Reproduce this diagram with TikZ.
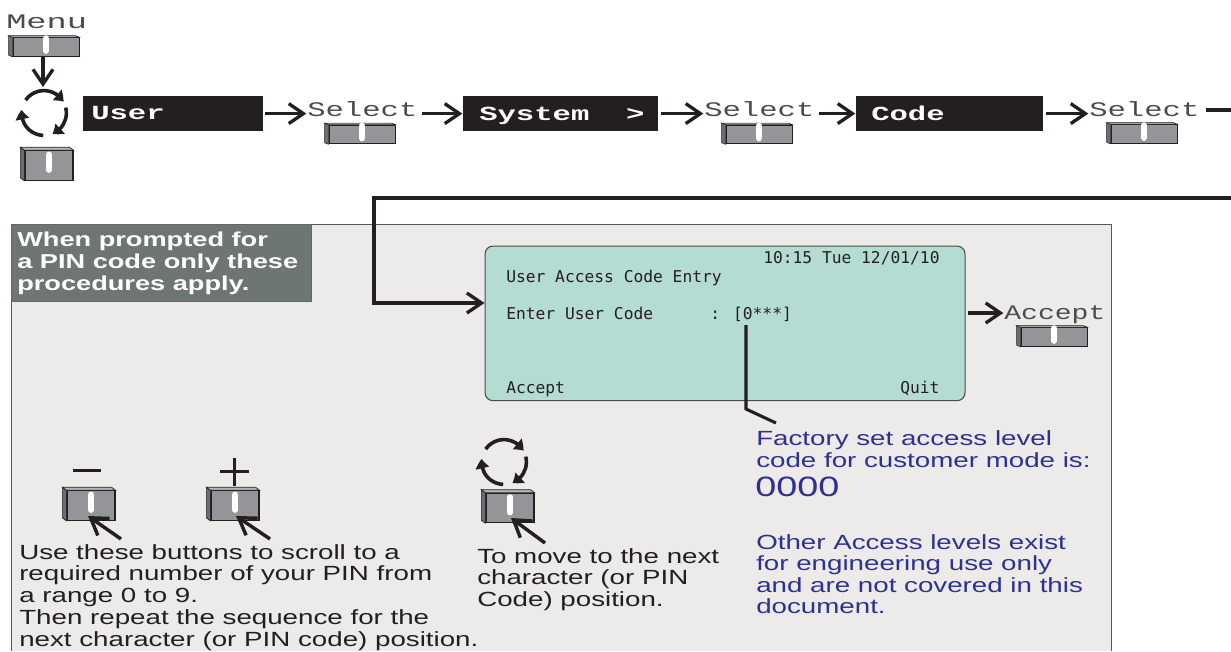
\documentclass[tikz,border=0pt]{standalone}
\usepackage{fontspec}
\setmainfont[FakeStretch=1.35]{Liberation Sans}
\newfontfamily\keyfont[FakeStretch=1.48]{Liberation Mono}
\newfontfamily\menufont[FakeStretch=1.63]{Liberation Mono}
\newfontfamily\accfont[FakeStretch=1.36]{Liberation Mono}
\newfontfamily\boxfont[FakeStretch=1.53]{Liberation Mono}
\newfontfamily\scrfont{DejaVu Sans Mono}
\usetikzlibrary{arrows.meta,bending}
\definecolor{ink}{HTML}{231F20}
\definecolor{panel}{HTML}{ECEBEA}
\definecolor{head}{HTML}{6E7675}
\definecolor{screen}{HTML}{B4DCD2}
\definecolor{bluetxt}{HTML}{2E3192}
\definecolor{face}{HTML}{939598}
\definecolor{bevelc}{HTML}{6D6E71}
\tikzset{
  flow/.style={draw=ink,line width=2.5pt,-{Straight Barb[length=11pt,width=15pt,line width=2.5pt]}},
  plainline/.style={draw=ink,line width=2.3pt},
  keylabel/.style={inner sep=0pt,text=black!70,font=\keyfont\fontsize{15.5pt}{17pt}\selectfont},
  blackbox/.style={fill=ink,draw=none,inner sep=0pt,minimum height=26pt},
  boxtext/.style={inner sep=0pt,anchor=base west,text=white,font=\boxfont\bfseries\fontsize{15pt}{17pt}\selectfont},
  btnface/.style={draw=ink,line width=.7pt,fill=face,inner sep=0pt},
  wide/.style={minimum width=49.5pt,minimum height=14pt},
  square/.style={minimum width=36pt,minimum height=22pt},
  scr/.style={inner sep=0pt,anchor=base west,text=ink,font=\scrfont\fontsize{12.2pt}{14pt}\selectfont},
  bodytext/.style={inner sep=0pt,anchor=north west,align=left,text=ink,font=\fontsize{15.4pt}{16.3pt}\selectfont},
  bluetext/.style={inner sep=0pt,anchor=north west,align=left,text=bluetxt,font=\fontsize{15.4pt}{16.2pt}\selectfont},
  cyclearc/.style={draw=ink,line width=2.7pt,-{Triangle[length=7pt,width=10pt,bend]}},
  ptr/.style={draw=ink,line width=2.6pt,-{Straight Barb[length=12pt,width=15.5pt,line width=2.6pt]}},
}
\newcommand\widebtn[2]{%
  \node[btnface,wide] (#1) at (#2) {};
  \fill[bevelc,draw=ink,line width=.4pt] (#1.north west) -- +(-3pt,1.2pt) -- ([shift={(-3pt,1.2pt)}]#1.south west) -- (#1.south west) -- cycle;
  \fill[face!70,draw=ink,line width=.4pt] (#1.north west) -- +(-3pt,1.2pt) -- ([shift={(-3pt,1.2pt)}]#1.north east) -- (#1.north east) -- cycle;
  \draw[white,line width=5pt,line cap=round] ([yshift=-1pt]#1.north) -- ([yshift=-10pt]#1.north);
}
\newcommand\squarebtn[2]{%
  \node[btnface,square,line width=.9pt] (#1) at (#2) {};
  \fill[bevelc,draw=ink,line width=.5pt] (#1.north west) -- +(-3pt,2.2pt) -- ([shift={(-3pt,2.2pt)}]#1.south west) -- (#1.south west) -- cycle;
  \fill[face!70,draw=ink,line width=.5pt] (#1.north west) -- +(-3pt,2.2pt) -- ([shift={(-3pt,2.2pt)}]#1.north east) -- (#1.north east) -- cycle;
  \draw[white,line width=5pt,line cap=round] ([yshift=-3.5pt]#1.north) -- ([yshift=-14.5pt]#1.north);
}
\newcommand\cycle[2]{%
  \coordinate (#1) at (#2);
  \draw[cyclearc] ([shift={(145:16.8pt)}]#1) arc[start angle=145,end angle=30,radius=16.8pt];
  \draw[cyclearc] ([shift={(14:16.8pt)}]#1) arc[start angle=14,end angle=-68,radius=16.8pt];
  \draw[cyclearc] ([shift={(-92:16.8pt)}]#1) arc[start angle=-92,end angle=-188,radius=16.8pt];
}
\begin{document}
\begin{tikzpicture}[x=0.75pt,y=-0.75pt]
\useasboundingbox (0,0) rectangle (1231,651);
\clip (0,0) rectangle (1231,651);
% panel
\fill[panel] (11,224) rectangle (1111,651);
\draw[black!65,line width=.7pt] (11,651) -- (11,224) -- (1111,224) -- (1111,651);
\node[fill=head,draw=black!60,line width=.5pt,minimum width=225pt,minimum height=57.5pt,anchor=north west,inner sep=0pt] (hd) at (11,224) {};
\node[anchor=north west,inner sep=0pt,align=left,text=white,font=\bfseries\fontsize{15.1pt}{16.4pt}\selectfont] (hdtext) at (17,232) {When prompted for\\a PIN code only these\\procedures apply.};
% top row
\node[inner sep=0pt,text=black!70,font=\menufont\fontsize{15.5pt}{17pt}\selectfont,anchor=base west] (menulbl) at (6,28) {Menu};
\widebtn{menubtn}{46,47}
\cycle{cyc}{44,113}
\squarebtn{cycbtn}{49,165.5}
\coordinate (cyctop) at (43,87);
\draw[flow] (cyctop |- menubtn.south) -- (cyctop);
\node[blackbox,minimum width=135pt,anchor=north west] (user) at (83,96) {};
\node[boxtext] (usert) at (91,119) {User};
\node[blackbox,minimum width=146pt,anchor=north west] (system) at (463,96) {};
\node[boxtext] (systemt) at (479,120) {System~~>};
\node[blackbox,minimum width=140pt,anchor=north west] (code) at (856,96) {};
\node[boxtext] (codet) at (871,120) {Code};
\node[keylabel,anchor=base west] (sa) at (307,116) {Select};
\node[keylabel,anchor=base west] (sb) at (704,116) {Select};
\node[keylabel,anchor=base west] (sc) at (1089,116) {Select};
\widebtn{ba}{362,134.5}
\widebtn{bb}{759,134.5}
\widebtn{bc}{1144,134}
\draw[flow] ([xshift=1pt]user.east) -- ([xshift=-.5pt]user.east -| sa.west);
\draw[flow] ([xshift=3pt]sa.east |- system.west) -- ([xshift=-.5pt]system.west);
\draw[flow] ([xshift=2pt]system.east) -- ([xshift=-.5pt]system.east -| sb.west);
\draw[flow] ([xshift=3pt]sb.east |- code.west) -- ([xshift=-.5pt]code.west);
\draw[flow] ([xshift=2pt]code.east) -- ([xshift=-.5pt]code.east -| sc.west);
\coordinate (exit) at (1231,110);
\draw[plainline] (1206,110) -- (exit);
% screen
\node[draw=black!70,line width=.8pt,fill=screen,rounded corners=6pt,minimum width=360pt,minimum height=116pt,anchor=north west,inner sep=0pt] (scrn) at (484.5,245.5) {};
\node[scr] (t1) at (763,263) {10:15 Tue 12/01/10};
\node[scr] (t2) at (506,282) {User Access Code Entry};
\node[scr] (t3) at (506,319) {Enter User Code};
\node[scr] (t4) at (710,319) {: [0***]};
\node[scr] (t5) at (506,393) {Accept};
\node[scr] (t6) at (900,393) {Quit};
% re-entry line
\coordinate (ret) at (1231,198);
\draw[flow] (ret) -- (374,198) -- (374,303) -- (scrn.west |- 0,303);
% accept
\node[inner sep=0pt,text=black!70,font=\accfont\fontsize{15.5pt}{17pt}\selectfont,anchor=base west] (acc) at (1004,319) {Accept};
\widebtn{bacc}{1054,337}
\draw[flow] ([xshift=2pt]scrn.east |- 0,313) -- ([xshift=-.5pt]acc.west |- 0,313);
% pointer
\coordinate (pa) at (746,325);
\coordinate (pb) at (746,409);
\coordinate (pc) at (776,423);
\draw[plainline,line join=miter] (pa) -- (pb) -- (pc);
% blue text
\node[bluetext] (bt1) at (756,430.5) {Factory set access level\\code for customer mode is:};
\node[inner sep=0pt,anchor=base west,text=bluetxt,font=\fontsize{21pt}{23pt}\selectfont] (bt2) at (755,496) {0000};
\node[bluetext] (bt3) at (756,534) {Other Access levels exist\\for engineering use only\\and are not covered in this\\document.};
% lower buttons
\squarebtn{minusbtn}{91,505.5}
\squarebtn{plusbtn}{235,505.5}
\squarebtn{nextbtn}{510,508}
\coordinate (mn1) at (73,470.5);
\coordinate (mn2) at (101,470.5);
\draw[draw=ink,line width=2.6pt] (mn1) -- (mn2);
\coordinate (pl1) at (220,471.5);
\coordinate (pl2) at (249,471.5);
\coordinate (pl3) at (234.5,458);
\coordinate (pl4) at (234.5,486);
\draw[draw=ink,line width=2.3pt] (pl1) -- (pl2) (pl3) -- (pl4);
\cycle{cycb}{504,462}
\coordinate (a1) at (121,539);
\coordinate (a1t) at (88,516);
\coordinate (a2) at (270,539);
\coordinate (a2t) at (236,516);
\coordinate (a3) at (545,543);
\coordinate (a3t) at (511,518);
\draw[ptr] (a1) -- (a1t);
\draw[ptr] (a2) -- (a2t);
\draw[ptr] (a3) -- (a3t);
% lower text
\node[bodytext] (lt) at (19,544) {Use these buttons to scroll to a\\required number of your PIN from\\a range 0 to 9.\\Then repeat the sequence for the\\next character (or PIN code) position.};
\node[bodytext] (rt) at (477,548) {To move to the next\\character (or PIN\\Code) position.};
\end{tikzpicture}
\end{document}
